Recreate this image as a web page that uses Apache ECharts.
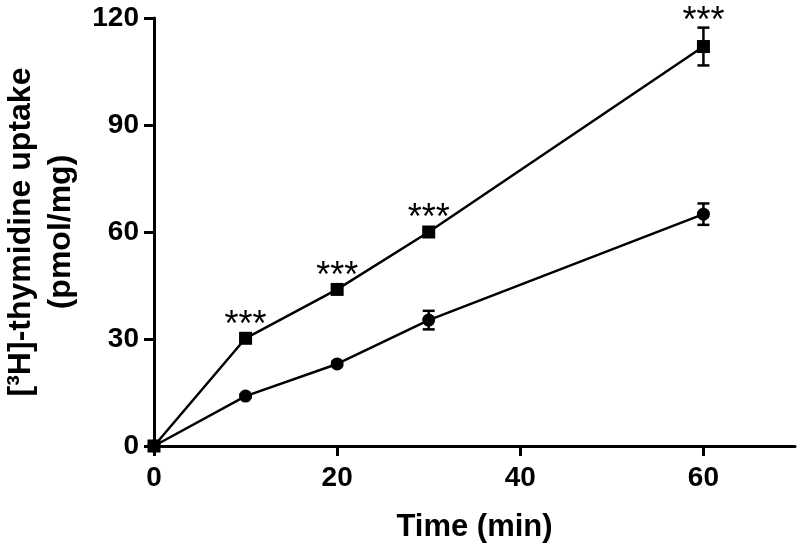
<!DOCTYPE html>
<html>
<head>
<meta charset="utf-8">
<script src="https://cdn.jsdelivr.net/npm/echarts@6/dist/echarts.min.js"></script>
<style>html,body{margin:0;padding:0;background:#fff}#c{width:800px;height:543px}</style>
</head>
<body>
<div id="c"></div>
<script>
var times = [0, 10, 20, 30, 60];
var squareVals = [0, 30.2, 43.9, 60, 112];
var squareErr = [0, 0.6, 0.6, 0.6, 5.3];
var circleVals = [0, 14, 23, 35.3, 65];
var circleErr = [0, 0.5, 0.6, 2.6, 3];
var starLabels = ['', '***', '***', '***', '***'];
var xTicks = [0, 20, 40, 60];
var yTicks = [0, 30, 60, 90, 120];

var FONT = "'Liberation Sans Narrow','Liberation Sans',Arial,sans-serif";
var chart = echarts.init(document.getElementById('c'));

function pairs(vals) { return times.map(function (t, i) { return [t, vals[i]]; }); }
function errData(vals, errs) { return times.map(function (t, i) { return [t, vals[i] - errs[i], vals[i] + errs[i]]; }); }
function errRender(params, api) {
  var lo = api.coord([api.value(0), api.value(1)]);
  var hi = api.coord([api.value(0), api.value(2)]);
  var w = 6;
  var st = { stroke: '#000', lineWidth: 2.5 };
  return { type: 'group', children: [
    { type: 'line', shape: { x1: lo[0], y1: lo[1], x2: hi[0], y2: hi[1] }, style: st },
    { type: 'line', shape: { x1: lo[0] - w, y1: lo[1], x2: lo[0] + w, y2: lo[1] }, style: st },
    { type: 'line', shape: { x1: hi[0] - w, y1: hi[1], x2: hi[0] + w, y2: hi[1] }, style: st }
  ] };
}

chart.setOption({
  animation: false,
  backgroundColor: '#fff',
  grid: { left: 154, right: 5, top: 18, bottom: 97, containLabel: false, outerBoundsMode: 'none' },
  xAxis: {
    type: 'value', min: 0, max: 70, interval: 20,
    name: 'Time (min)', nameLocation: 'middle', nameGap: 66,
    nameTextStyle: { fontFamily: FONT, fontWeight: 'bold', fontSize: 31, color: '#000' },
    axisLine: { lineStyle: { color: '#000', width: 3 } },
    axisTick: { length: 10, lineStyle: { color: '#000', width: 3 }, customValues: xTicks },
    axisLabel: { fontFamily: FONT, fontWeight: 'bold', fontSize: 28, color: '#000', margin: 18, customValues: xTicks },
    splitLine: { show: false }
  },
  yAxis: {
    type: 'value', min: 0, max: 120, interval: 30,
    name: '[³H]-thymidine uptake\n(pmol/mg)', nameLocation: 'middle', nameGap: 72,
    nameTextStyle: { fontFamily: FONT, fontWeight: 'bold', fontSize: 32, color: '#000', lineHeight: 40 },
    axisLine: { lineStyle: { color: '#000', width: 3 } },
    axisTick: { length: 10, lineStyle: { color: '#000', width: 3 }, customValues: yTicks },
    axisLabel: { fontFamily: FONT, fontWeight: 'bold', fontSize: 28, color: '#000', margin: 15, customValues: yTicks },
    splitLine: { show: false }
  },
  series: [
    { type: 'custom', renderItem: errRender, data: errData(circleVals, circleErr), z: 3 },
    { type: 'custom', renderItem: errRender, data: errData(squareVals, squareErr), z: 3 },
    {
      type: 'line', data: pairs(circleVals), symbol: 'circle', symbolSize: 13,
      lineStyle: { color: '#000', width: 2.5 }, itemStyle: { color: '#000' }, z: 4
    },
    {
      type: 'line',
      data: times.map(function (t, i) {
        return {
          value: [t, squareVals[i]],
          label: { show: !!starLabels[i], formatter: starLabels[i], offset: [0, squareErr[i] > 2 ? 0 : 12] }
        };
      }),
      symbol: 'rect', symbolSize: 13,
      lineStyle: { color: '#000', width: 2.5 }, itemStyle: { color: '#000' }, z: 4,
      label: { position: 'top', distance: 0, fontFamily: FONT, fontSize: 36, color: '#000' }
    }
  ]
});
</script>
</body>
</html>
